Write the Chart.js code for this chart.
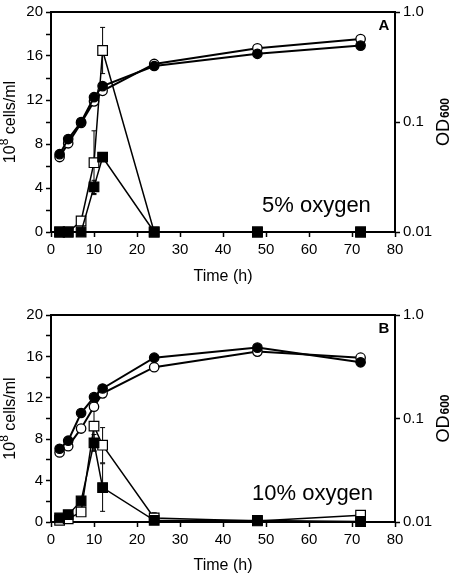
<!DOCTYPE html>
<html>
<head>
<meta charset="utf-8">
<script src="https://cdn.jsdelivr.net/npm/chart.js@4.4.1/dist/chart.umd.min.js"></script>
<style>
  body { margin: 0; background: #fff; width: 450px; height: 575px; overflow: hidden; }
  canvas { position: absolute; left: 0; }
  #chartA { top: 0; }
  #chartB { top: 288px; }
</style>
</head>
<body>
<canvas id="chartA" width="450" height="288"></canvas>
<canvas id="chartB" width="450" height="287"></canvas>
<script>
const FONT = "'Liberation Sans', Arial, sans-serif";

const hours = [2, 4, 7, 10, 12, 24, 48, 72];

// panel A - 5% oxygen
const odFilledA = [0.051, 0.070, 0.100, 0.168, 0.212, 0.323, 0.417, 0.495];
const odOpenA = [0.048, 0.064, 0.098, 0.154, 0.192, 0.337, 0.468, 0.567];
const cellsOpenA = [0, 0, 1.0, 6.3, 16.5, 0, 0, 0];
const cellsOpenErrA = [0, 0, 0, 2.9, 2.1, 0, 0, 0];
const cellsFilledA = [0, 0, 0, 4.1, 6.8, 0, 0, 0];
const cellsFilledErrA = [0, 0, 0, 0.6, 0.3, 0, 0, 0];

// panel B - 10% oxygen
const odFilledB = [0.051, 0.061, 0.113, 0.161, 0.195, 0.387, 0.484, 0.349];
const odOpenB = [0.047, 0.054, 0.080, 0.130, 0.175, 0.313, 0.443, 0.387];
const cellsOpenB = [0.16, 0.3, 0.97, 9.26, 7.42, 0.39, 0.1, 0.65];
const cellsOpenErrB = [0, 0, 0, 2.4, 1.7, 0.5, 0, 0.3];
const cellsFilledB = [0.39, 0.71, 2.03, 7.65, 3.33, 0.16, 0.15, 0.05];
const cellsFilledErrB = [0, 0, 0, 0.8, 2.3, 0, 0, 0];

const odTicks = [0.01, 0.1, 1.0];

function toPoints(vals) {
    return hours.map((h, i) => ({x: h, y: vals[i]}));
}

// vertical error bars with small caps, drawn under the markers
const errorBars = {
    id: "errorBars",
    beforeDatasetsDraw(chart) {
        const ctx = chart.ctx;
        const xs = chart.scales.x;
        chart.data.datasets.forEach(ds => {
            if(!ds.errors) return;
            const ys = chart.scales[ds.yAxisID];
            ctx.save();
            ctx.strokeStyle = "#000";
            ctx.lineWidth = 1;
            ds.data.forEach((p, j) => {
                const e = ds.errors[j];
                if(!e) return;
                const px = xs.getPixelForValue(p.x);
                const top = ys.getPixelForValue(p.y + e);
                const bot = ys.getPixelForValue(Math.max(p.y - e, 0));
                ctx.beginPath();
                ctx.moveTo(px, top); ctx.lineTo(px, bot);
                ctx.moveTo(px - 2.5, top); ctx.lineTo(px + 2.5, top);
                ctx.moveTo(px - 2.5, bot); ctx.lineTo(px + 2.5, bot);
                ctx.stroke();
            });
            ctx.restore();
        });
    }
};

// top frame line, axis titles with super/subscripts, panel letter and note
const panelText = {
    id: "panelText",
    afterDraw(chart, args, opts) {
        const ctx = chart.ctx;
        const a = chart.chartArea;
        const midY = (a.top + a.bottom) / 2;
        ctx.save();
        ctx.strokeStyle = "#000";
        ctx.lineWidth = 2;
        ctx.beginPath();
        ctx.moveTo(a.left - 1, a.top);
        ctx.lineTo(a.right + 1, a.top);
        ctx.stroke();

        ctx.fillStyle = "#000";
        ctx.textBaseline = "alphabetic";

        // panel letter
        ctx.font = "bold 15px " + FONT;
        ctx.textAlign = "center";
        ctx.fillText(opts.letter, a.right - 11, a.top + 18);

        // oxygen note
        ctx.font = "22px " + FONT;
        ctx.textAlign = "left";
        ctx.fillText(opts.note, opts.noteX, a.top + opts.noteY);

        // left title: 10^8 cells/ml
        ctx.save();
        ctx.translate(15, midY);
        ctx.rotate(-Math.PI / 2);
        ctx.textAlign = "left";
        ctx.font = "16px " + FONT;
        const w1 = ctx.measureText("10").width;
        const w3 = ctx.measureText(" cells/ml").width;
        ctx.font = "12px " + FONT;
        const w2 = ctx.measureText("8").width;
        let x0 = -(w1 + w2 + w3) / 2;
        ctx.font = "16px " + FONT;
        ctx.fillText("10", x0, 0);
        ctx.font = "12px " + FONT;
        ctx.fillText("8", x0 + w1, -7);
        ctx.font = "16px " + FONT;
        ctx.fillText(" cells/ml", x0 + w1 + w2, 0);
        ctx.restore();

        // right title: OD600
        ctx.save();
        ctx.translate(449, midY);
        ctx.rotate(-Math.PI / 2);
        ctx.textAlign = "left";
        ctx.font = "18px " + FONT;
        const o1 = ctx.measureText("OD").width;
        ctx.font = "bold 12px " + FONT;
        const o2 = ctx.measureText("600").width;
        x0 = -(o1 + o2 + 1) / 2;
        ctx.font = "18px " + FONT;
        ctx.fillText("OD", x0, 0);
        ctx.font = "bold 12px " + FONT;
        ctx.fillText("600", x0 + o1 + 1, 0);
        ctx.restore();

        ctx.restore();
    }
};

function circleSet(vals, filled, order) {
    return {
        data: toPoints(vals),
        yAxisID: "od",
        borderColor: "#000",
        borderWidth: 2,
        pointStyle: "circle",
        pointRadius: 4.7,
        pointBorderWidth: 1.3,
        pointBorderColor: "#000",
        pointBackgroundColor: filled ? "#000" : "#fff",
        order: order,
        clip: false
    };
}

function squareSet(vals, errs, filled, order) {
    return {
        data: toPoints(vals),
        errors: errs,
        yAxisID: "cells",
        borderColor: "#000",
        borderWidth: 1.5,
        pointStyle: "rect",
        pointRadius: 6.8,
        pointBorderWidth: 1.2,
        pointBorderColor: "#000",
        pointBackgroundColor: filled ? "#000" : "#fff",
        order: order,
        clip: false
    };
}

function makePanel(id, p) {
    return new Chart(document.getElementById(id), {
        type: "line",
        data: {
            datasets: [
                squareSet(p.cellsFilled, p.cellsFilledErr, true, 0),
                circleSet(p.odFilled, true, 1),
                circleSet(p.odOpen, false, 2),
                squareSet(p.cellsOpen, p.cellsOpenErr, false, 3)
            ]
        },
        options: {
            responsive: false,
            animation: false,
            events: [],
            layout: {padding: {top: p.padTop, left: 0, right: 0, bottom: 0}, autoPadding: false},
            plugins: {
                legend: {display: false},
                tooltip: {enabled: false},
                panelText: {letter: p.letter, note: p.note, noteX: p.noteX, noteY: p.noteY}
            },
            scales: {
                x: {
                    type: "linear",
                    min: 0,
                    max: 80,
                    afterFit: s => { s.height = p.xHeight; },
                    ticks: {stepSize: 10, color: "#000", padding: 4, font: {size: 15, family: FONT}, maxRotation: 0},
                    grid: {drawOnChartArea: false, tickLength: 5, tickColor: "#000", tickWidth: 1.5},
                    border: {color: "#000", width: 2},
                    title: {
                        display: true,
                        text: "Time (h)",
                        color: "#000",
                        font: {size: 16, family: FONT},
                        padding: {top: 0, bottom: p.titlePad}
                    }
                },
                cells: {
                    type: "linear",
                    position: "left",
                    min: 0,
                    max: 20,
                    afterFit: s => { s.width = 51; },
                    ticks: {
                        stepSize: 2,
                        autoSkip: false,
                        color: "#000",
                        padding: 3,
                        font: {size: 15, family: FONT},
                        callback: v => v % 4 === 0 ? v : ""
                    },
                    grid: {drawOnChartArea: false, tickLength: 5, tickColor: "#000", tickWidth: 1.5},
                    border: {color: "#000", width: 2}
                },
                od: {
                    type: "logarithmic",
                    position: "right",
                    min: 0.01,
                    max: 1,
                    afterFit: s => { s.width = 55; },
                    afterBuildTicks: s => { s.ticks = odTicks.map(v => ({value: v})); },
                    ticks: {
                        color: "#000",
                        padding: 3,
                        font: {size: 15, family: FONT},
                        callback: v => v === 1 ? "1.0" : String(v)
                    },
                    grid: {drawOnChartArea: false, tickLength: 5, tickColor: "#000", tickWidth: 1.5},
                    border: {color: "#000", width: 2}
                }
            }
        },
        plugins: [errorBars, panelText]
    });
}

makePanel("chartA", {
    odFilled: odFilledA, odOpen: odOpenA,
    cellsOpen: cellsOpenA, cellsOpenErr: cellsOpenErrA,
    cellsFilled: cellsFilledA, cellsFilledErr: cellsFilledErrA,
    letter: "A", note: "5% oxygen", noteX: 262, noteY: 200,
    padTop: 9, xHeight: 56, titlePad: 2
});

makePanel("chartB", {
    odFilled: odFilledB, odOpen: odOpenB,
    cellsOpen: cellsOpenB, cellsOpenErr: cellsOpenErrB,
    cellsFilled: cellsFilledB, cellsFilledErr: cellsFilledErrB,
    letter: "B", note: "10% oxygen", noteX: 252, noteY: 185,
    padTop: 27, xHeight: 53, titlePad: 0
});
</script>
</body>
</html>
